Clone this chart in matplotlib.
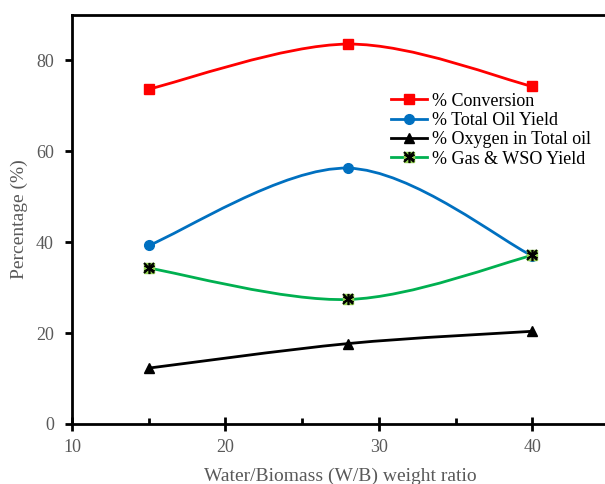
import numpy as np
import matplotlib.pyplot as plt
from matplotlib.path import Path
from matplotlib.patches import PathPatch
from matplotlib.lines import Line2D
from matplotlib.ticker import MultipleLocator

plt.rcParams['font.family'] = ['Liberation Serif', 'DejaVu Serif']

wb_ratio = [15, 28, 40]
conversion = [73.7, 83.6, 74.3]
oil_yield = [39.3, 56.3, 37.0]
oxygen = [12.3, 17.7, 20.4]
gas_wso = [34.3, 27.4, 37.1]


def smooth_path(x, y):
    # Excel-style smoothed line as cubic Bezier segments
    pts = np.column_stack([x, y]).astype(float)
    n = len(pts)
    verts = [pts[0]]
    codes = [Path.MOVETO]
    for i in range(n - 1):
        p0 = pts[max(i - 1, 0)]
        p1 = pts[i]
        p2 = pts[i + 1]
        p3 = pts[min(i + 2, n - 1)]
        c1 = p1 + (p2 - p0) / 6
        c2 = p2 - (p3 - p1) / 6
        verts += [c1, c2, p2]
        codes += [Path.CURVE4] * 3
    return Path(verts, codes)


fig = plt.figure(figsize=(6.05, 4.84), dpi=100)
ax = fig.add_axes([72 / 605, 60 / 484, 537 / 605, 409 / 484])

series = [
    (conversion, "% Conversion", "#FF0000", dict(marker="s", mfc="#FF0000", mec="#FF0000", ms=7)),
    (oil_yield, "% Total Oil Yield", "#0070C0", dict(marker="o", mfc="#0070C0", mec="#0070C0", ms=7)),
    (oxygen, "% Oxygen in Total oil", "black", dict(marker="^", mfc="black", mec="black", ms=7)),
    (gas_wso, "% Gas & WSO Yield", "#00B050", dict(marker="s", mfc="#92D050", mec="#92D050", ms=7)),
]

star1 = dict(linestyle="none", marker=(6, 2, 0), ms=8, mec="black", mew=1.2)
star2 = dict(linestyle="none", marker="x", ms=7, mec="black", mew=1.5)

handles = []
for vals, label, color, mk in series:
    ax.add_patch(PathPatch(smooth_path(wb_ratio, vals), fill=False, edgecolor=color, lw=2, zorder=2))
    ax.plot(wb_ratio, vals, linestyle="none", zorder=3, **mk)
    handles.append(Line2D([], [], color=color, lw=2, **mk))

# star overlay on the gas markers
ax.plot(wb_ratio, gas_wso, zorder=4, **star1)
ax.plot(wb_ratio, gas_wso, zorder=4, **star2)
handles[-1] = (handles[-1], Line2D([], [], **star1), Line2D([], [], **star2))

ax.set_xlim(10, 45)
ax.set_ylim(0, 90)
ax.xaxis.set_major_locator(MultipleLocator(10))
ax.xaxis.set_minor_locator(MultipleLocator(5))
ax.set_yticks([0, 20, 40, 60, 80])

for s in ["left", "bottom", "top"]:
    ax.spines[s].set_linewidth(2)
ax.spines["right"].set_visible(False)

ax.tick_params(axis="x", which="major", direction="inout", length=10, width=2, labelsize=13,
               labelcolor="#595959", pad=6)
ax.tick_params(axis="x", which="minor", direction="in", length=4, width=2)
ax.tick_params(axis="y", which="major", direction="out", length=5, width=2, labelsize=13,
               labelcolor="#595959", pad=8)

ax.set_xlabel("Water/Biomass (W/B) weight ratio", fontsize=14, color="#595959", labelpad=8)
ax.set_ylabel("Percentage (%)", fontsize=14, color="#595959", labelpad=6)

ax.legend(handles=handles, labels=[s[1] for s in series], loc="upper left",
          bbox_to_anchor=(378 / 605, 1 - 80 / 484), bbox_transform=fig.transFigure,
          frameon=False, fontsize=13, handlelength=2.0, handletextpad=0.3,
          labelspacing=0.13, borderpad=0.2)

fig.savefig("out.png", dpi=100)
